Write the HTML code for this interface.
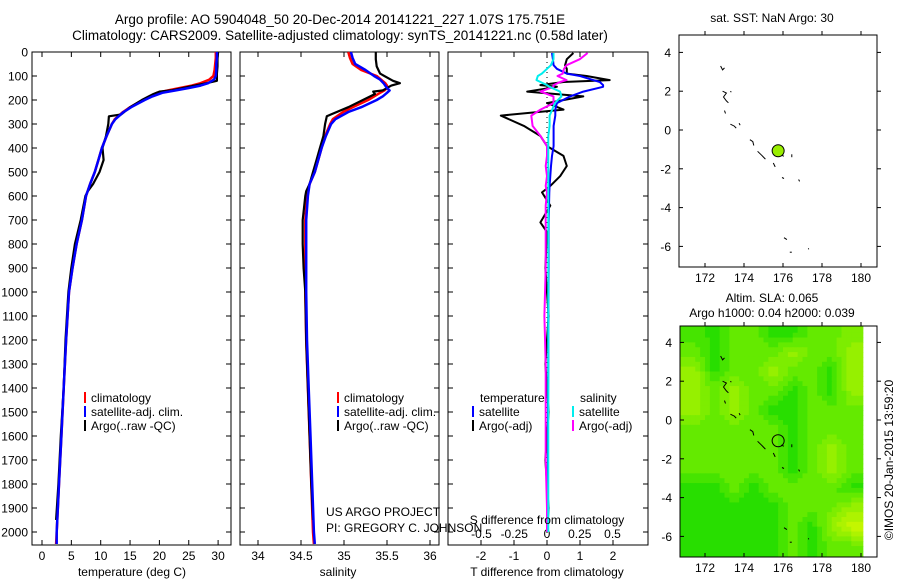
<!DOCTYPE html>
<html><head><meta charset="utf-8"><style>
body{margin:0;background:#fff;}
svg{display:block;font-family:"Liberation Sans",sans-serif;}
text{fill:#000;}
</style></head><body>
<svg id="fig" width="900" height="580" viewBox="0 0 900 580"></svg>
<script>
// ---- data ----
const tDepths=[0,25,50,75,100,115,130,140,150,160,170,185,200,230,250,280,300,350,400,450,500,550,600,700,800,900,1000,1200,1400,1600,1800,2000,2050];
const tClim=[29.6,29.6,29.5,29.4,29.2,28.5,27,25.5,23.5,21.5,19.6,18.3,17.2,15,13.8,12.4,11.9,11,10.2,9.6,9,8.2,7.5,6.8,5.9,5.2,4.6,4.1,3.7,3.3,2.9,2.5,2.4];
const tSat=[29.8,29.8,29.7,29.7,29.6,29.3,28.3,27,25,22.8,20.5,18.8,17.5,15.2,13.9,12.5,11.9,11,10.2,9.6,9,8.2,7.5,6.8,5.9,5.2,4.6,4.1,3.7,3.3,2.9,2.5,2.5];
const argoDepths=[0,30,60,90,120,130,140,160,165,175,200,230,260,268,300,350,400,450,500,550,580,600,700,800,900,1000,1200,1400,1600,1800,1950];
const tArgo=[30,29.9,29.9,29.8,29.8,28,26,22,20,19,17,15,13.5,11.4,11.3,10.9,10.3,10.5,9.8,8.7,7.8,7.4,6.6,5.6,5.0,4.5,4.0,3.7,3.2,2.8,2.4];
const sClim=[35.05,35.07,35.1,35.2,35.38,35.43,35.48,35.5,35.5,35.47,35.42,35.35,35.28,35.1,34.99,34.87,34.84,34.78,34.74,34.7,34.66,34.6,34.57,34.55,34.55,34.55,34.55,34.56,34.58,34.6,34.62,34.64,34.65];
const sSat=[35.08,35.1,35.13,35.25,35.35,35.42,35.46,35.48,35.5,35.53,35.5,35.45,35.38,35.2,35.05,34.9,34.85,34.79,34.74,34.7,34.66,34.6,34.58,34.56,34.56,34.56,34.56,34.57,34.59,34.61,34.63,34.65,34.66];
const sArgo=[35.37,35.37,35.38,35.42,35.57,35.65,35.55,35.45,35.34,35.36,35.22,35.05,34.85,34.8,34.78,34.76,34.72,34.68,34.64,34.6,34.56,34.55,34.52,34.52,34.53,34.55,34.56,34.58,34.6,34.62,34.64];
const dDepths=[4,30,55,70,90,100,117,125,138,145,165,185,213,240,265,308,350,392,433,475,517,558,585,640,710,750,900,1100,1300,1500,1700,1900,2000];
const dTArgo=[0.8,0.6,0.55,0.6,0.6,1.2,1.9,0.5,-0.2,0.3,-0.6,1.1,0,0.5,-1.4,-0.7,-0.2,0,0.5,0.6,0.4,0.1,-0.15,0.1,-0.2,0,-0.05,0.05,-0.05,0.05,-0.05,0.05,0];
const dTSat=[0.15,0.18,0.2,0.3,0.6,1.0,1.4,1.6,1.7,1.7,1.1,0.7,0.3,0.25,0.25,0.2,0.2,0.2,0.15,0.12,0.1,0.08,0.07,0.06,0.05,0.05,0.05,0.04,0.04,0.03,0.03,0.03,0.03];
const dSArgo=[0.31,0.25,0.15,0.13,0.12,0.08,0.15,0.1,0.05,0.05,-0.05,0.05,0.05,-0.05,-0.12,-0.11,-0.05,0,0,-0.01,0,-0.01,0,-0.01,-0.01,-0.01,-0.01,-0.02,-0.01,-0.01,-0.01,0,0];
const dSSat=[0.05,0.05,0.03,0,-0.04,-0.07,-0.08,-0.05,0,0.02,0.1,0.11,0.06,0.04,0.02,0.02,0.01,0.01,0.01,0.01,0.01,0.01,0.01,0.01,0.01,0.01,0.01,0.01,0.01,0.01,0.01,0.01,0.01];
const depthTicks=[0,100,200,300,400,500,600,700,800,900,1000,1100,1200,1300,1400,1500,1600,1700,1800,1900,2000];
const tTicks=[0,5,10,15,20,25,30];
const sTicks=[34,34.5,35,35.5,36];
const sTickLabels=["34","34.5","35","35.5","36"];
const dtTicks=[-2,-1,0,1,2];
const dsTicks=[-0.5,-0.25,0,0.25,0.5];
const dsTickLabels=["-0.5","-0.25","0","0.25","0.5"];
const latTicks=[4,2,0,-2,-4,-6];
const lonTicks=[172,174,176,178,180];
const argoLon=175.751, argoLat=-1.07;
const slaLevels=[ // rows lat 4..5 down to -7..-6, cols lon 171..179
[0.5,0,1,1,0,0,1,1,1.5],
[1,0,1,1,1,2,1,1,2],
[2,0,1,1,2,1,1,0,2],
[2,1,2,1,1,0,1,0,2],
[2,1,2,1,0,0,1,1,1],
[1,1,1,1,1,0,1,1,1],
[1,1,1,1,1,0,1,2,1],
[1,1,1,1,1,0,1,2,1],
[0,0,1,0,1,1,1,1,0],
[0,0,0,0,0,1,1,1,2],
[0,0,0,0,0,1,0,2,3],
[0,0,0,0,0,1,0,1,1]];
const islands=[
[[172.8,3.3],[172.9,3.1],[173.0,3.2]],
[[172.9,2.0],[173.1,1.9],[172.95,1.7],[173.1,1.5],[173.2,1.4]],
[[173.3,2.0],[173.35,1.95]],
[[173.0,1.0],[173.05,0.85]],
[[173.3,0.3],[173.5,0.2],[173.6,0.1]],
[[173.75,0.35],[173.8,0.25]],
[[174.3,-0.5],[174.45,-0.6],[174.5,-0.8]],
[[174.7,-1.1],[174.9,-1.3],[175.1,-1.5]],
[[175.5,-1.7],[175.6,-1.9]],
[[175.9,-1.3],[176.05,-1.35]],
[[176.45,-1.25],[176.45,-1.4]],
[[175.95,-2.45],[176.05,-2.5]],
[[176.8,-2.55],[176.85,-2.65]],
[[176.05,-5.55],[176.2,-5.65]],
[[176.35,-6.3],[176.45,-6.3]],
[[177.3,-6.1],[177.32,-6.15]]];

// ---- helpers ----
const NS="http://www.w3.org/2000/svg";
const fig=document.getElementById('fig');
function mk(tag,attrs,parent){const e=document.createElementNS(NS,tag);for(const k in attrs)e.setAttribute(k,attrs[k]);(parent||fig).appendChild(e);return e;}
function txt(x,y,s,anchor,size,parent){const e=mk('text',{x:x,y:y,'text-anchor':anchor||'start','font-size':size||12},parent);e.textContent=s;return e;}
const yD=d=>52+d*0.24;
const xT=t=>42+t*5.87;
const xS=s=>258+(s-34)*86;
const xDT=t=>547+t*33;
const xDS=s=>547+s*131;
const PB=545;
function line(xs,ys,fx,color,w,name){
  const pts=xs.map((v,i)=>fx(v).toFixed(1)+','+yD(ys[i]).toFixed(1)).join(' ');
  const p=mk('polyline',{points:pts,fill:'none',stroke:color,'stroke-width':w,'stroke-linejoin':'round'});
  
  
  return p;
}
function frame(x0,x1,y0,y1,name){
  const r=mk('rect',{x:x0,y:y0,width:x1-x0,height:y1-y0,fill:'none',stroke:'#000','stroke-width':1});
  
  
}

// ---- titles ----
let t1=txt(340,24,'Argo profile: AO 5904048_50 20-Dec-2014 20141221_227 1.07S 175.751E','middle',13.5);


let t2=txt(340,40,'Climatology: CARS2009. Satellite-adjusted climatology: synTS_20141221.nc (0.58d later)','middle',13.5);



depthTicks.forEach(d=>{
  const e=txt(28,yD(d)+4.5,String(d),'end',12);
  
  
});
function depthTickMarks(x0,x1){
  depthTicks.forEach(d=>{
    mk('line',{x1:x0,x2:x0+5,y1:yD(d),y2:yD(d),stroke:'#000'});
    mk('line',{x1:x1-5,x2:x1,y1:yD(d),y2:yD(d),stroke:'#000'});
  });
}

// ---- panel 1 temperature ----
frame(32,231,52,PB,'temperature-panel');
depthTickMarks(32,231);
tTicks.forEach(t=>{
  mk('line',{x1:xT(t),x2:xT(t),y1:52,y2:57,stroke:'#000'});
  mk('line',{x1:xT(t),x2:xT(t),y1:PB-5,y2:PB,stroke:'#000'});
  const e=txt(xT(t),560,String(t),'middle',12);
  
  
});
let xl1=txt(132,576,'temperature (deg C)','middle',12);


line(tClim,tDepths,xT,'#f00',2.5,'temperature-climatology-line');
line(tArgo,argoDepths,xT,'#000',2.2,'temperature-argo-line');
line(tSat,tDepths,xT,'#00f',2.5,'temperature-satellite-line');

// ---- panel 2 salinity ----
frame(240,439,52,PB,'salinity-panel');
depthTickMarks(240,439);
sTicks.forEach((s,i)=>{
  mk('line',{x1:xS(s),x2:xS(s),y1:52,y2:57,stroke:'#000'});
  mk('line',{x1:xS(s),x2:xS(s),y1:PB-5,y2:PB,stroke:'#000'});
  const e=txt(xS(s),560,sTickLabels[i],'middle',12);
  
  
});
let xl2=txt(338,576,'salinity','middle',12);


line(sClim,tDepths,xS,'#f00',2.5,'salinity-climatology-line');
line(sArgo,argoDepths,xS,'#000',2.2,'salinity-argo-line');
line(sSat,tDepths,xS,'#00f',2.5,'salinity-satellite-line');

// ---- panel 3 differences ----
frame(448,648,52,PB,'difference-panel');
depthTickMarks(448,648);
mk('line',{x1:547,x2:547,y1:52,y2:PB,stroke:'#000','stroke-dasharray':'1,4'});
dtTicks.forEach(t=>{
  mk('line',{x1:xDT(t),x2:xDT(t),y1:52,y2:57,stroke:'#000'});
  mk('line',{x1:xDT(t),x2:xDT(t),y1:PB-5,y2:PB,stroke:'#000'});
  const e=txt(xDT(t),560,String(t),'middle',12);
  
  
});
dsTicks.forEach((s,i)=>{
  const e=txt(xDS(s),538,dsTickLabels[i],'middle',12);
  
  
});
line(dTArgo,dDepths,xDT,'#000',2,'t-difference-argo-line');
line(dTSat,dDepths,xDT,'#00f',2,'t-difference-satellite-line');
line(dSArgo,dDepths,xDS,'#f0f',2,'s-difference-argo-line');
line(dSSat,dDepths,xDS,'#0ee',2,'s-difference-satellite-line');
let xl3=txt(547,576,'T difference from climatology','middle',12);


let xl4=txt(547,524,'S difference from climatology','middle',12);



// ---- legends ----
function legend(x,y,color,label,name){
  const g=mk('g',{});
  
  
  mk('rect',{x:x,y:y-10,width:2,height:11,fill:color},g);
  txt(x+7,y,label,'start',12,g);
}
legend(84,402,'#f00','climatology','legend-t-climatology');
legend(84,416,'#00f','satellite-adj. clim.','legend-t-satellite');
legend(84,430,'#000','Argo(..raw -QC)','legend-t-argo');
legend(337,402,'#f00','climatology','legend-s-climatology');
legend(337,416,'#00f','satellite-adj. clim.','legend-s-satellite');
legend(337,430,'#000','Argo(..raw -QC)','legend-s-argo');
let lt=txt(480,402,'temperature','start',12);  
let ls=txt(580,402,'salinity','start',12);  
legend(472,416,'#00f','satellite','legend-dt-satellite');
legend(472,430,'#000','Argo(-adj)','legend-dt-argo');
legend(572,416,'#0ee','satellite','legend-ds-satellite');
legend(572,430,'#f0f','Argo(-adj)','legend-ds-argo');
let c1=txt(326,516,'US ARGO PROJECT','start',12);  
let c2=txt(326,532,'PI: GREGORY C. JOHNSON','start',12);  

// ---- maps ----
function mapAxes(x0,x1,y0,y1,lonX,latY,name){
  frame(x0,x1,y0,y1,name);
  latTicks.forEach(l=>{
    const y=latY(l);
    mk('line',{x1:x0,x2:x0+4,y1:y,y2:y,stroke:'#000'});
    mk('line',{x1:x1,x2:x1+4,y1:y,y2:y,stroke:'#000'});
    const e=txt(x0-8,y+4.5,String(l),'end',12);
    
    
  });
  lonTicks.forEach(l=>{
    const x=lonX(l);
    mk('line',{x1:x,x2:x,y1:y1-4,y2:y1,stroke:'#000'});
    mk('line',{x1:x,x2:x,y1:y0,y2:y0-4,stroke:'#000'});
    const e=txt(x,y1+15,String(l),'middle',12);
    
    
  });
}
function drawIslands(lonX,latY,name){
  islands.forEach(seg=>{
    const p=mk('polyline',{points:seg.map(q=>lonX(q[0]).toFixed(1)+','+latY(q[1]).toFixed(1)).join(' '),fill:'none',stroke:'#000','stroke-width':1});
    
    
  });
}
const lonX=l=>705+(l-172)*19.5;
const latY1=l=>130-l*19.4;
const latY2=l=>420-l*19.4;

// map 1
let m1t=txt(772,22,'sat. SST: NaN Argo: 30','middle',12);


mapAxes(679,877,35,267,lonX,latY1,'sst-map-frame');
drawIslands(lonX,latY1,'sst-map-island');
let ap1=mk('circle',{cx:lonX(argoLon),cy:latY1(argoLat),r:6,fill:'#99ee00',stroke:'#000','stroke-width':1});



// map 2
let m2a=txt(772,302,'Altim. SLA: 0.065','middle',12);


let m2b=txt(772,317,'Argo h1000: 0.04 h2000: 0.039','middle',12);


mk('clipPath',{id:'hc'}).appendChild((()=>{const r=document.createElementNS(NS,'rect');r.setAttribute('x',680);r.setAttribute('y',326);r.setAttribute('width',lonX(180.12)-680);r.setAttribute('height',231);return r;})());
const hg=mk('g',{'clip-path':'url(#hc)'});


const palette=[[40,222,0],[100,234,0],[150,240,0],[195,246,0]];
function col(v){v=Math.max(0,Math.min(3,v));const i=Math.min(2,Math.floor(v)),f=v-i;const a=palette[i],b=palette[i+1];return 'rgb('+a.map((c,k)=>Math.round(c+(b[k]-c)*f)).join(',')+')';}
const NR=slaLevels.length, NC=slaLevels[0].length;
function valAt(lon,lat){
  // cell centers at lon 171.5+i, lat 4.5-j ; bilinear
  let fi=lon-171.5, fj=4.5-lat;
  fi=Math.max(0,Math.min(NC-1,fi)); fj=Math.max(0,Math.min(NR-1,fj));
  const i0=Math.min(NC-2,Math.floor(fi)), j0=Math.min(NR-2,Math.floor(fj));
  const u=fi-i0, w=fj-j0;
  const g=(j,i)=>slaLevels[j][i];
  return g(j0,i0)*(1-u)*(1-w)+g(j0,i0+1)*u*(1-w)+g(j0+1,i0)*(1-u)*w+g(j0+1,i0+1)*u*w;
}
for(let lat=5;lat>-7.25;lat-=0.25){
  for(let lon=170.5;lon<180.25;lon+=0.25){
    const v=valAt(lon+0.125,lat-0.125);
    const c=mk('rect',{x:lonX(lon),y:latY2(lat),width:19.5*0.25+0.6,height:19.4*0.25+0.6,fill:col(Math.round(v*2)/2)},hg);
    
    
  }
}
mapAxes(680,877,326,557,lonX,latY2,'sla-map-frame');
drawIslands(lonX,latY2,'sla-map-island');
let ap2=mk('circle',{cx:lonX(argoLon),cy:latY2(argoLat),r:6,fill:'none',stroke:'#000','stroke-width':1});



let cr=txt(0,0,'©IMOS 20-Jan-2015 13:59:20','middle',12);
cr.setAttribute('transform','translate(893,460) rotate(-90)');


</script>
</body></html>
